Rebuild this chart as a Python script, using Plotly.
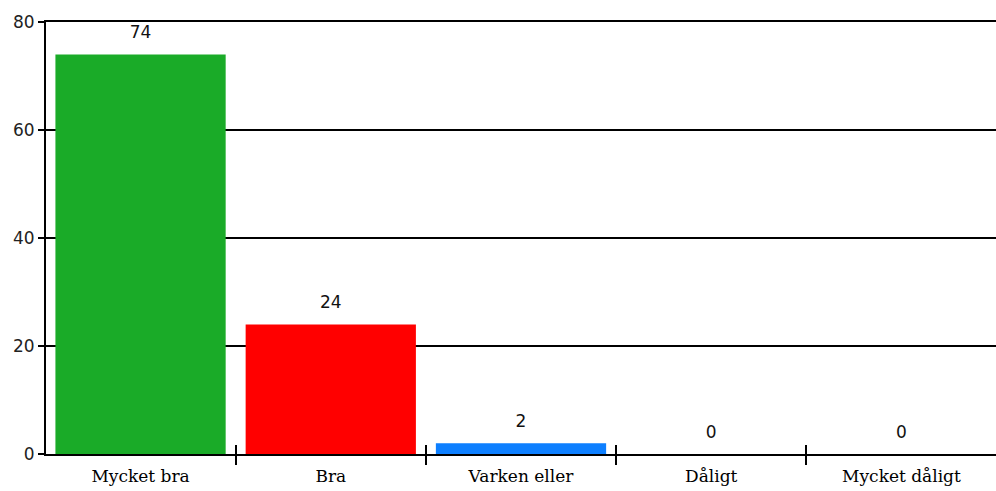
import plotly.graph_objects as go

categories = ["Mycket bra", "Bra", "Varken eller", "Dåligt", "Mycket dåligt"]
values = [74, 24, 2, 0, 0]
bar_colors = ["#1aab28", "#ff0000", "#0d7fff", "#0d7fff", "#0d7fff"]
y_ticks = [0, 20, 40, 60, 80]

fig = go.Figure()
fig.add_trace(
    go.Bar(
        x=categories,
        y=values,
        marker=dict(color=bar_colors, line=dict(width=0)),
        hoverinfo="x+y",
    )
)
# value labels above the bars (invisible markers push the text up a bit)
fig.add_trace(
    go.Scatter(
        x=categories,
        y=values,
        mode="markers+text",
        marker=dict(size=18, opacity=0),
        text=[str(v) for v in values],
        textposition="top center",
        textfont=dict(family="DejaVu Sans", size=17, color="#111111"),
        cliponaxis=False,
        hoverinfo="skip",
    )
)
# invisible copy on a second x axis, only to get inside tick marks
fig.add_trace(
    go.Bar(x=categories, y=values, xaxis="x2", marker=dict(opacity=0),
           hoverinfo="skip", showlegend=False)
)

fig.update_layout(
    width=996,
    height=491,
    margin=dict(l=46, r=0, t=22, b=37),
    paper_bgcolor="white",
    plot_bgcolor="white",
    showlegend=False,
    bargap=0.105,
    xaxis=dict(
        type="category",
        range=[-0.497, 4.497],
        automargin=False,
        showline=True,
        mirror=True,
        linecolor="black",
        linewidth=2,
        ticks="outside",
        tickson="boundaries",
        ticklen=9,
        tickwidth=1.5,
        tickcolor="black",
        ticklabelstandoff=6,
        tickfont=dict(family="DejaVu Serif", size=17, color="black"),
        showgrid=False,
    ),
    xaxis2=dict(
        type="category",
        automargin=False,
        overlaying="x",
        matches="x",
        side="bottom",
        ticks="inside",
        tickson="boundaries",
        ticklen=9,
        tickwidth=1.5,
        tickcolor="black",
        showticklabels=False,
        showgrid=False,
        showline=False,
    ),
    yaxis=dict(
        range=[0, 80],
        automargin=False,
        tickvals=y_ticks,
        showline=True,
        linecolor="black",
        linewidth=2,
        ticks="outside",
        ticklen=6,
        tickwidth=1.5,
        tickcolor="black",
        showgrid=True,
        gridcolor="black",
        gridwidth=1.6,
        zeroline=False,
        tickfont=dict(family="DejaVu Sans", size=17, color="#222222"),
    ),
)

# drop the default 8px page margin so the figure sits flush in the window
fig.write_html("out.html", config={"displayModeBar": False},
               post_script="document.body.style.margin='0';")
